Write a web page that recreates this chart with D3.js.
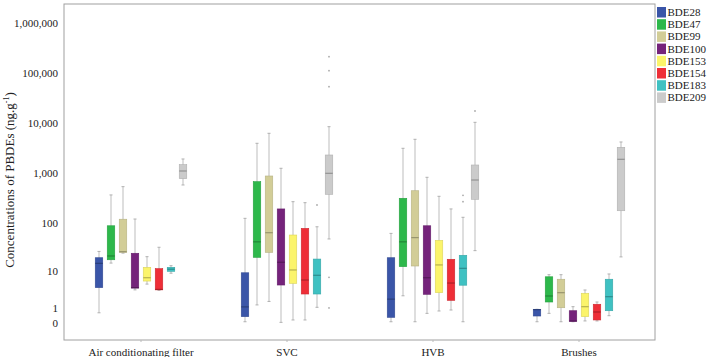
<!DOCTYPE html>
<html>
<head>
<meta charset="utf-8">
<script src="https://cdn.jsdelivr.net/npm/d3@7"></script>
<style>
  body { margin: 0; background: #fff; }
  svg { display: block; font-family: "Liberation Serif", "Times New Roman", serif; }
</style>
</head>
<body>
<div id="chart"></div>
<script>
// Sample types (x categories) and congeners (series)
const groups = ['Air conditionating filter', 'SVC', 'HVB', 'Brushes'];
const series = ['BDE28', 'BDE47', 'BDE99', 'BDE100', 'BDE153', 'BDE154', 'BDE183', 'BDE209'];
const colors = ['#3a55a8', '#2db84b', '#d2cd97', '#75237b', '#fbf46b', '#ee2e37', '#3fc1c2', '#cbcbcb'];
const yTicks = [0, 1, 10, 100, 1000, 10000, 100000, 1000000];

// [min, q1, median, q3, max] per group
const bde28  = [[0.6, 4.1, 14.6, 19.2, 26], [0.06, 0.34, 1.1, 9.1, 123], [0.06, 0.3, 2.0, 19.2, 61], [0.06, 0.38, 0.85, 0.88, 0.88]];
const bde47  = [[14.8, 17.4, 20.9, 87, 363], [1.3, 19.6, 41, 669, 3926], [2.5, 12.4, 41, 311, 3118], [0.56, 1.63, 2.47, 7.4, 8.25]];
const bde99  = [[24, 24.9, 25.7, 118, 532], [1.7, 24.9, 63, 870, 6222], [0.06, 12.8, 50, 441, 4720], [0.06, 1.02, 3.04, 6.5, 8.25]];
const bde100 = [[3.6, 4.0, 4.1, 23.8, 119], [0.03, 4.75, 15.4, 190, 1241], [0.56, 2.75, 7.05, 87, 819], [0.06, 0.08, 0.1, 0.76, 1.12]];
const bde153 = [[5.0, 5.9, 7.05, 12, 20.2], [0.15, 5.2, 10.5, 56.5, 266], [0.74, 3.04, 13.5, 44, 341], [0.1, 0.34, 1.12, 2.93, 3.57]];
const bde154 = [[3.5, 3.6, 3.7, 11.2, 31.7], [0.15, 2.8, 6.24, 77, 254], [0.82, 1.84, 5.3, 17.8, 190], [0.1, 0.15, 0.66, 1.37, 1.63]];
const bde183 = [[8.9, 9.8, 10.9, 12, 13], [1.06, 2.8, 8.0, 18, 83], [0.06, 4.7, 11.4, 21.6, 129], [0.4, 0.76, 2.36, 6.5, 8.55]];
const bde209 = [[575, 769, 1096, 1465, 1905], [47, 374, 985, 2290, 8433], [27, 297, 723, 1445, 10320], [20, 175, 1878, 3265, 4168]];

// outliers: [group, series, value]
const outliers = [
    ['SVC', 'BDE183', 228],
    ['SVC', 'BDE209', 211800], ['SVC', 'BDE209', 111200], ['SVC', 'BDE209', 53200],
    ['SVC', 'BDE209', 7.2], ['SVC', 'BDE209', 1.0],
    ['HVB', 'BDE183', 357], ['HVB', 'BDE183', 266],
    ['HVB', 'BDE209', 17380]
];

const stats = [bde28, bde47, bde99, bde100, bde153, bde154, bde183, bde209];

const W = 709, H = 357;
const plot = { left: 64, right: 655, top: 4, bottom: 340 };

const svg = d3.select('#chart').append('svg')
    .attr('width', W)
    .attr('height', H);

// log10(x + 1) style scale
const y = d3.scaleSymlog().constant(1)
    .domain([0, 1000000])
    .range([323, 23]);

const x = d3.scaleBand()
    .domain(groups)
    .range([68, 652]);

const xs = d3.scaleBand()
    .domain(series)
    .range([-48, 48])
    .paddingInner(0.375)
    .paddingOuter(0.1875);

// frame
svg.append('rect')
    .attr('x', plot.left)
    .attr('y', plot.top)
    .attr('width', plot.right - plot.left)
    .attr('height', plot.bottom - plot.top)
    .attr('fill', 'none')
    .attr('stroke', '#a0a0a0')
    .attr('stroke-width', 1);

// y axis
const yAxis = svg.append('g')
    .attr('transform', `translate(${plot.left},0)`)
    .call(d3.axisLeft(y).tickValues(yTicks).tickFormat(d3.format(',')).tickSize(0).tickPadding(6));
yAxis.select('.domain').remove();
yAxis.selectAll('text').attr('font-size', 11).attr('fill', '#222').attr('font-family', 'Liberation Serif');

// x axis
const xAxis = svg.append('g')
    .attr('transform', `translate(0,${plot.bottom})`)
    .call(d3.axisBottom(x).tickSize(2).tickPadding(6));
xAxis.select('.domain').remove();
xAxis.selectAll('line').attr('stroke', '#bbb');
xAxis.selectAll('text').attr('font-size', 11).attr('fill', '#222').attr('font-family', 'Liberation Serif');

// y title
const yTitle = svg.append('text')
    .attr('transform', `translate(14,180) rotate(-90)`)
    .attr('text-anchor', 'middle')
    .attr('font-size', 13)
    .attr('fill', '#222');
yTitle.append('tspan').text('Concentrations of PBDEs (ng.g');
yTitle.append('tspan').attr('font-size', 8).attr('dy', -5).text('-1');
yTitle.append('tspan').attr('dy', 5).text(')');

// boxes
const boxes = [];
series.forEach((s, si) => {
    groups.forEach((g, gi) => {
        const [min, q1, med, q3, max] = stats[si][gi];
        boxes.push({ s, g, color: colors[si], min, q1, med, q3, max });
    });
});

const bw = xs.bandwidth();
const cx = d => x(d.g) + x.bandwidth() / 2 + xs(d.s) + bw / 2;

const bx = svg.append('g').selectAll('g')
    .data(boxes)
    .enter()
    .append('g');

// whisker line
bx.append('line')
    .attr('x1', cx).attr('x2', cx)
    .attr('y1', d => y(d.max)).attr('y2', d => y(d.min))
    .attr('stroke', '#bdbdbd')
    .attr('stroke-width', 1);

// whisker caps
['min', 'max'].forEach(k => {
    bx.append('line')
        .attr('x1', d => cx(d) - 1.5).attr('x2', d => cx(d) + 1.5)
        .attr('y1', d => y(d[k])).attr('y2', d => y(d[k]))
        .attr('stroke', '#b0b0b0')
        .attr('stroke-width', 1);
});

bx.append('rect')
    .attr('x', d => cx(d) - bw / 2)
    .attr('width', bw)
    .attr('y', d => y(d.q3))
    .attr('height', d => Math.max(1, y(d.q1) - y(d.q3)))
    .attr('fill', d => d.color)
    .attr('stroke', d => d3.color(d.color).darker(0.4))
    .attr('stroke-width', 0.6);

bx.append('line')
    .attr('x1', d => cx(d) - bw / 2).attr('x2', d => cx(d) + bw / 2)
    .attr('y1', d => y(d.med)).attr('y2', d => y(d.med))
    .attr('stroke', d => d3.color(d.color).darker(0.9))
    .attr('stroke-width', 1.2);

// outlier dots
svg.append('g').selectAll('circle')
    .data(outliers)
    .enter()
    .append('circle')
    .attr('cx', d => cx({ g: d[0], s: d[1] }))
    .attr('cy', d => y(d[2]))
    .attr('r', 0.9)
    .attr('fill', '#aaa');

// legend
const legend = svg.append('g').attr('transform', 'translate(657,7)');
const li = legend.selectAll('g')
    .data(series)
    .enter()
    .append('g')
    .attr('transform', (d, i) => `translate(0,${i * 12.2})`);
li.append('rect')
    .attr('width', 9).attr('height', 10.5)
    .attr('fill', (d, i) => colors[i]);
li.append('text')
    .attr('x', 10.5).attr('y', 9)
    .attr('font-size', 11)
    .attr('fill', '#222')
    .text(d => d);
</script>
</body>
</html>
